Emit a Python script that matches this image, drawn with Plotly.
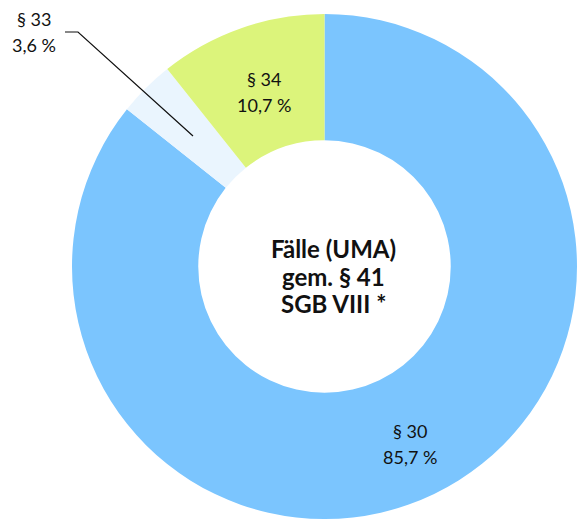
import plotly.graph_objects as go

# Shares of cases (UMA) by legal basis, in percent
categories = ["§ 30", "§ 33", "§ 34"]
shares = [85.7, 3.6, 10.7]
share_labels = ["85,7 %", "3,6 %", "10,7 %"]
colors = ["#7BC5FE", "#EAF5FE", "#DCF47B"]

center_lines = ["Fälle (UMA)", "gem. § 41", "SGB VIII *"]

W, H = 577, 519


def px(x, y):
    """Convert pixel position (from top-left) to paper coordinates."""
    return x / W, 1 - y / H


fig = go.Figure(
    go.Pie(
        labels=categories,
        values=shares,
        hole=0.5,
        sort=False,
        direction="clockwise",
        rotation=0,
        marker=dict(colors=colors, line=dict(width=0)),
        textinfo="none",
        hoverinfo="label+percent",
        showlegend=False,
        domain=dict(x=[72 / W, 1.0], y=[0.0, 1 - 14 / H]),
    )
)

annotations = []

# Slice labels: category name on the first line, share on the second
label_pos = {
    "§ 30": (410, 431, 457),
    "§ 33": (34, 19, 45),
    "§ 34": (264, 79, 105),
}
for cat, lab in zip(categories, share_labels):
    x, y1, y2 = label_pos[cat]
    for text, yy in ((cat, y1), (lab, y2)):
        ax, ay = px(x, yy)
        annotations.append(
            dict(
                x=ax, y=ay, xref="paper", yref="paper", text=text,
                showarrow=False, xanchor="center", yanchor="middle",
                font=dict(family="Lato", size=18, color="#111111"),
            )
        )

# Title in the hole of the donut
for text, yy in zip(center_lines, (248, 276, 303)):
    ax, ay = px(333, yy)
    annotations.append(
        dict(
            x=ax, y=ay, xref="paper", yref="paper", text=f"<b>{text}</b>",
            showarrow=False, xanchor="center", yanchor="middle",
            font=dict(family="Lato", size=24, color="#111111"),
        )
    )

# Leader line from the § 33 label to its slice
p0, p1, p2 = px(65, 32), px(78, 32), px(193, 136)
leader = dict(
    type="path",
    xref="paper", yref="paper",
    path=f"M {p0[0]},{p0[1]} L {p1[0]},{p1[1]} L {p2[0]},{p2[1]}",
    line=dict(color="#111111", width=1.2),
)

fig.update_layout(
    width=W,
    height=H,
    autosize=False,
    margin=dict(l=0, r=0, t=0, b=0),
    paper_bgcolor="white",
    plot_bgcolor="white",
    annotations=annotations,
    shapes=[leader],
)

fig.write_html("out.html")
